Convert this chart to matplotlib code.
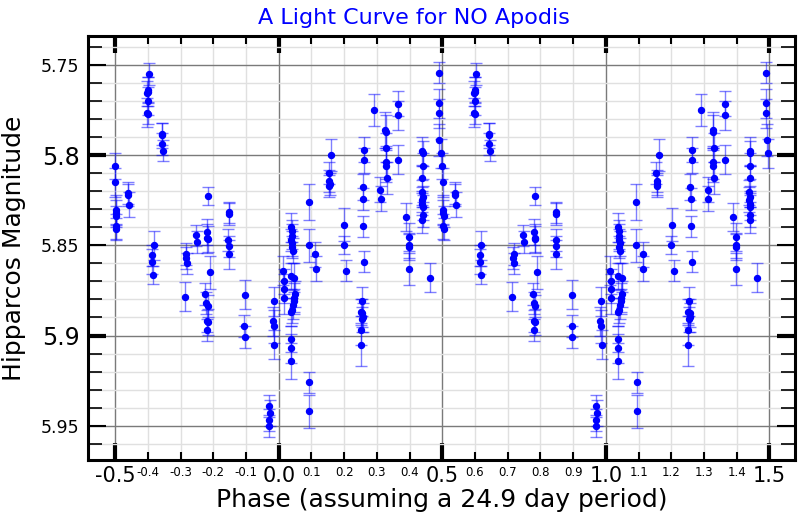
import numpy as np
import matplotlib
matplotlib.use('Agg')
import matplotlib.pyplot as plt
import matplotlib.ticker as ticker

plt.rcParams['axes.unicode_minus'] = False

# folded Hipparcos photometry, phase in [0, 1)
phase = [0.014, 0.017, 0.016, 0.015,
         0.038, 0.040, 0.041, 0.039, 0.042, 0.040, 0.043,
         0.037, 0.048, 0.049, 0.047, 0.046, 0.044, 0.040, 0.036,
         0.036, 0.038, 0.038,
         0.092, 0.092, 0.112, 0.113, 0.094, 0.094,
         0.161, 0.153, 0.155, 0.157, 0.155,
         0.201, 0.200, 0.207,
         0.262, 0.262, 0.258, 0.259, 0.259, 0.262, 0.254, 0.252, 0.256, 0.257, 0.253, 0.252, 0.250,
         0.290,
         0.311, 0.312,
         0.326, 0.327, 0.329, 0.328, 0.327, 0.330,
         0.365, 0.365, 0.364,
         0.389, 0.398, 0.397, 0.399, 0.398,
         0.439, 0.440, 0.440, 0.439, 0.437, 0.440, 0.438, 0.439, 0.440, 0.441, 0.439, 0.461,
         0.489, 0.490, 0.489, 0.491, 0.495,
         0.500, 0.501, 0.503, 0.502, 0.504, 0.503, 0.504,
         0.539, 0.540, 0.541,
         0.602, 0.600, 0.599, 0.598, 0.599, 0.598, 0.601,
         0.643, 0.642, 0.644, 0.645,
         0.618, 0.614, 0.614, 0.617,
         0.718, 0.717, 0.719, 0.714,
         0.748, 0.749,
         0.783, 0.781, 0.782, 0.784, 0.790, 0.776, 0.779, 0.783, 0.781, 0.784, 0.781,
         0.847, 0.848, 0.846, 0.847, 0.848,
         0.896, 0.895, 0.896,
         0.971, 0.972, 0.970, 0.969,
         0.984, 0.983, 0.986, 0.987]

mag = [5.864, 5.870, 5.874, 5.879,
       5.840, 5.842, 5.845, 5.847, 5.849, 5.851, 5.853,
       5.867, 5.868, 5.877, 5.879, 5.881, 5.883, 5.886, 5.887,
       5.902, 5.907, 5.914,
       5.826, 5.850, 5.855, 5.863, 5.926, 5.942,
       5.800, 5.810, 5.8145, 5.816, 5.817,
       5.8386, 5.850, 5.864,
       5.797, 5.803, 5.8177, 5.8244, 5.8395, 5.859, 5.881, 5.887, 5.8875, 5.890, 5.891, 5.897, 5.905,
       5.775,
       5.8192, 5.8242,
       5.786, 5.787, 5.796, 5.804, 5.806, 5.8127,
       5.7716, 5.7779, 5.8026,
       5.8343, 5.8454, 5.850, 5.851, 5.863,
       5.798, 5.799, 5.806, 5.8127, 5.8207, 5.823, 5.8247, 5.827, 5.829, 5.833, 5.836, 5.868,
       5.7543, 5.7712, 5.7768, 5.7915, 5.799,
       5.806, 5.815, 5.8303, 5.832, 5.834, 5.8395, 5.841,
       5.821, 5.822, 5.8275,
       5.7552, 5.7638, 5.765, 5.7657, 5.770, 5.7764, 5.777,
       5.7884, 5.789, 5.794, 5.7975,
       5.850, 5.8556, 5.859, 5.8667,
       5.855, 5.857, 5.860, 5.8786,
       5.8445, 5.848,
       5.8229, 5.8426, 5.846, 5.8465, 5.865, 5.877, 5.882, 5.8835, 5.892, 5.8925, 5.897,
       5.8318, 5.8327, 5.847, 5.8506, 5.855,
       5.8775, 5.8949, 5.9008,
       5.939, 5.943, 5.947, 5.950,
       5.881, 5.892, 5.895, 5.905]

err = [0.008, 0.007, 0.008, 0.009,
       0.008, 0.006, 0.007, 0.006, 0.007, 0.006, 0.007,
       0.007, 0.008, 0.007, 0.008, 0.007, 0.008, 0.007, 0.008,
       0.007, 0.008, 0.010,
       0.010, 0.009, 0.007, 0.007, 0.006, 0.009,
       0.009, 0.006, 0.006, 0.006, 0.006,
       0.009, 0.005, 0.006,
       0.007, 0.007, 0.007, 0.006, 0.006, 0.006, 0.008, 0.007, 0.008, 0.008, 0.007, 0.008, 0.012,
       0.009,
       0.007, 0.007,
       0.010, 0.009, 0.008, 0.009, 0.009, 0.009,
       0.007, 0.008, 0.008,
       0.008, 0.008, 0.007, 0.007, 0.009,
       0.008, 0.007, 0.007, 0.007, 0.007, 0.006, 0.007, 0.006, 0.007, 0.007, 0.007, 0.008,
       0.006, 0.008, 0.008, 0.009, 0.008,
       0.007, 0.008, 0.008, 0.007, 0.006, 0.007, 0.006,
       0.006, 0.006, 0.007,
       0.006, 0.007, 0.008, 0.007, 0.008, 0.008, 0.006,
       0.006, 0.007, 0.006, 0.006,
       0.008, 0.006, 0.007, 0.005,
       0.006, 0.006, 0.006, 0.008,
       0.006, 0.006,
       0.005, 0.007, 0.008, 0.007, 0.009, 0.006, 0.006, 0.006, 0.006, 0.007, 0.006,
       0.006, 0.006, 0.006, 0.006, 0.008,
       0.008, 0.006, 0.006,
       0.006, 0.007, 0.006, 0.006,
       0.008, 0.008, 0.009, 0.008]

ytick_vals = [5.75, 5.8, 5.85, 5.9, 5.95]
ytick_labels = ['5.75', '5.8', '5.85', '5.9', '5.95']

ph = np.array(phase)
m = np.array(mag)
e = np.array(err)
# second copy so that the curve runs from -0.5 to 1.5
ph2 = np.where(ph < 0.5, ph + 1, ph - 1)
xx = np.concatenate([ph, ph2])
yy = np.concatenate([m, m])
ee = np.concatenate([e, e])

fig = plt.figure(figsize=(8, 5.2), dpi=100)
ax = fig.add_axes([88/800, 1-460/520, (795-88)/800, (460-36)/520])

ax.errorbar(xx, yy, yerr=ee, fmt='o', color='blue', ms=4.3,
            ecolor=(0, 0, 1, 0.5), elinewidth=1, capsize=4.5, capthick=1, zorder=3)

ax.set_xlim(-0.583, 1.578)
ax.set_ylim(5.969, 5.734)

ax.xaxis.set_major_locator(ticker.MultipleLocator(0.5))
ax.xaxis.set_minor_locator(ticker.MultipleLocator(0.1))
ax.xaxis.set_major_formatter(ticker.FormatStrFormatter('%.1f'))
ax.xaxis.set_minor_formatter(ticker.FormatStrFormatter('%.1f'))
ax.set_yticks(ytick_vals)
ax.set_yticklabels(ytick_labels)
ax.yaxis.set_minor_locator(ticker.MultipleLocator(0.01))

ax.grid(which='major', color='#7a7a7a', lw=1)
ax.grid(which='minor', color='#e0e0e0', lw=1)
ax.set_axisbelow(True)

ax.tick_params(axis='x', which='major', direction='in', top=True, length=12, width=3,
               labelsize=15, pad=4)
ax.tick_params(axis='x', which='minor', direction='in', top=True, length=6, width=1.5,
               labelsize=8.5, pad=4)
ax.tick_params(axis='y', which='major', direction='in', right=True, length=13, width=1.5,
               labelsize=12.5, pad=6)
ax.tick_params(axis='y', which='minor', direction='in', right=True, length=10, width=1.2)

for t, lab in zip(ax.yaxis.get_major_ticks(), ytick_labels):
    if lab in ('5.8', '5.9'):
        t.label1.set_fontsize(17)
        t.tick1line.set_markeredgewidth(3)
        t.tick2line.set_markeredgewidth(3)

for s in ax.spines.values():
    s.set_linewidth(2.2)

ax.set_xlabel('Phase (assuming a 24.9 day period)', fontsize=18, labelpad=2)
ax.set_ylabel('Hipparcos Magnitude', fontsize=18)
ax.yaxis.set_label_coords(-0.087, 0.5)
fig.text(414/800, 1-18/520, 'A Light Curve for NO Apodis', color='blue',
         fontsize=16, ha='center', va='center')

fig.savefig('out.png', dpi=100)
